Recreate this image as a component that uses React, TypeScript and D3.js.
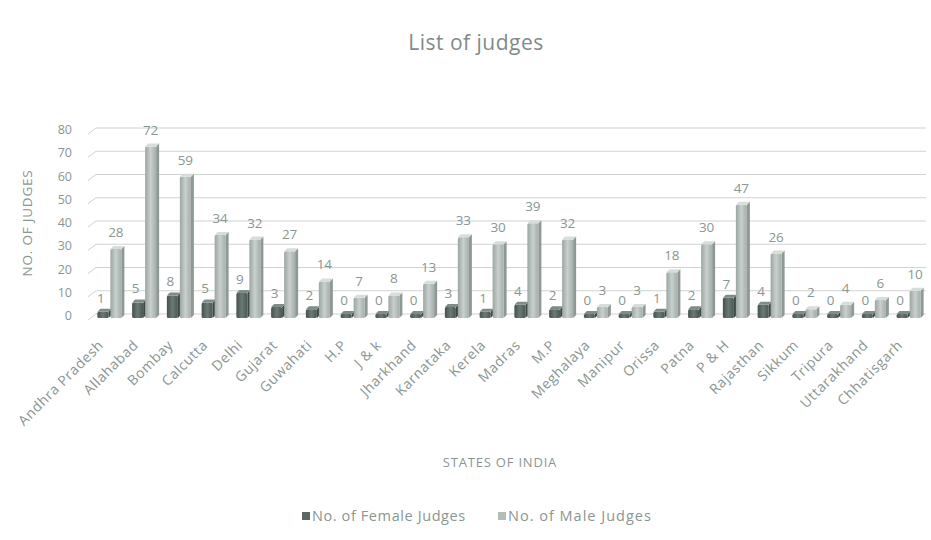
import React from "react";
import * as d3 from "d3";

const states = ["Andhra Pradesh","Allahabad","Bombay","Calcutta","Delhi","Gujarat","Guwahati","H.P","J & k","Jharkhand","Karnataka","Kerela","Madras","M.P","Meghalaya","Manipur","Orissa","Patna","P & H","Rajasthan","Sikkum","Tripura","Uttarakhand","Chhatisgarh"];
const femaleJudges = [1,5,8,5,9,3,2,0,0,0,3,1,4,2,0,0,1,2,7,4,0,0,0,0];
const maleJudges = [28,72,59,34,32,27,14,7,8,13,33,30,39,32,3,3,18,30,47,26,2,4,6,10];
const yTicks = [0,10,20,30,40,50,60,70,80];
const seriesNames = ["No. of Female Judges","No. of Male Judges"];

const W = 931, H = 540;
const FONT = "'Open Sans', Lato, sans-serif";
const TXT = "#8a9692";

export default function App() {
  const x = d3.scaleBand<string>().domain(states).range([92, 926]).paddingInner(0).paddingOuter(0);
  const y = d3.scaleLinear().domain([0, 80]).range([316, 130]);
  const bw = x.bandwidth();
  const d = 3;
  const barW = 11;

  const bar = (cx: number, v: number, key: string, grad: string, side: string, top: string) => {
    const x0 = cx;
    const yt = y(v) - 2;
    const yb = y(0) + 2;
    return (
      <g key={key}>
        <polygon points={`${x0 + barW},${yt} ${x0 + barW + d},${yt - d} ${x0 + barW + d},${yb - d} ${x0 + barW},${yb}`} fill={side} />
        <rect x={x0} y={yt} width={barW} height={yb - yt} fill={`url(#${grad})`} rx={1.5} />
        <polygon points={`${x0},${yt} ${x0 + d},${yt - d} ${x0 + barW + d},${yt - d} ${x0 + barW},${yt}`} fill={top} />
      </g>
    );
  };

  return (
    <svg width={W} height={H} style={{ position: "absolute", left: 0, top: 0, background: "#fff" }}>
      <defs>
        <linearGradient id="gF" x1="0" x2="1" y1="0" y2="0">
          <stop offset="0" stopColor="#44514c" />
          <stop offset="0.5" stopColor="#6c7a74" />
          <stop offset="1" stopColor="#4a5853" />
        </linearGradient>
        <linearGradient id="gM" x1="0" x2="1" y1="0" y2="0">
          <stop offset="0" stopColor="#9ba6a1" />
          <stop offset="0.5" stopColor="#c9d0cd" />
          <stop offset="1" stopColor="#a4aeaa" />
        </linearGradient>
      </defs>
      <text x={476} y={50} textAnchor="middle" fontFamily={FONT} fontSize={21} letterSpacing={0.5} fill="#808c88">List of judges</text>

      {yTicks.map((t) => (
        <g key={t}>
          <line x1={88} y1={y(t) + 4} x2={96} y2={y(t) - 2} stroke="#cfd3d1" strokeWidth={1} />
          <line x1={96} y1={y(t) - 2} x2={926} y2={y(t) - 2} stroke="#cfd3d1" strokeWidth={1} />
          <text x={72} y={y(t) + 4} textAnchor="end" fontFamily={FONT} fontSize={12.5} fill={TXT}>{t}</text>
        </g>
      ))}

      <text transform={`translate(32,${223}) rotate(-90)`} textAnchor="middle" fontFamily={FONT} fontSize={13.5} fill={TXT} letterSpacing={0.8}>NO. OF JUDGES</text>

      {states.map((s, i) => {
        const cx = (x(s) as number) + bw / 2;
        const fx = cx - barW - 1;
        const mx = cx + 1;
        return (
          <g key={s}>
            {bar(fx, femaleJudges[i], s + "f", "gF", "#3e4a46", "#7f8c87")}
            {bar(mx, maleJudges[i], s + "m", "gM", "#8e9994", "#d7dddb")}
            <text x={fx + barW / 2 - 2} y={y(femaleJudges[i]) - 11} textAnchor="middle" fontFamily={FONT} fontSize={13.5} fill={TXT}>{femaleJudges[i]}</text>
            <text x={mx + barW / 2} y={y(maleJudges[i]) - 14} textAnchor="middle" fontFamily={FONT} fontSize={13.5} fill={TXT}>{maleJudges[i]}</text>
            <text transform={`translate(${cx - 5},${346}) rotate(-45)`} textAnchor="end" fontFamily={FONT} fontSize={14} letterSpacing={0.6} fill={TXT}>{s}</text>
          </g>
        );
      })}

      <text x={500} y={467} textAnchor="middle" fontFamily={FONT} fontSize={13} letterSpacing={0.8} fill={TXT}>STATES OF INDIA</text>

      <rect x={302} y={512} width={8} height={8} fill="#5a6762" />
      <text x={312} y={521} fontFamily={FONT} fontSize={14.5} letterSpacing={0.6} fill={TXT}>{seriesNames[0]}</text>
      <rect x={498} y={512} width={8} height={8} fill="#b3bcb8" />
      <text x={508} y={521} fontFamily={FONT} fontSize={14.5} letterSpacing={1} fill={TXT}>{seriesNames[1]}</text>
    </svg>
  );
}
